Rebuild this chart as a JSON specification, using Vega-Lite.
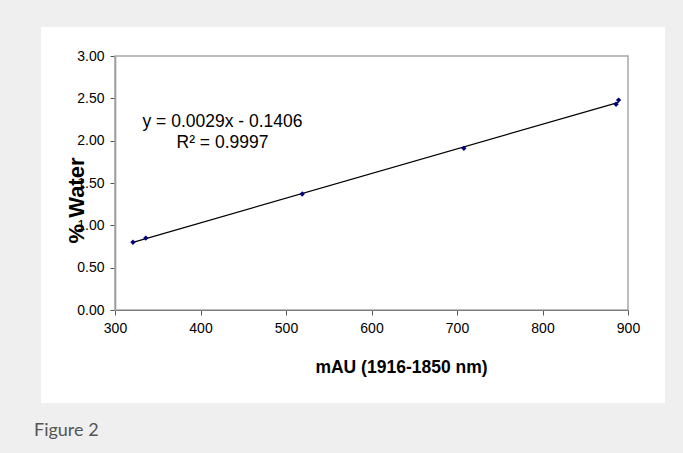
{
  "$schema": "https://vega.github.io/schema/vega-lite/v6.json",
  "width": 624,
  "height": 376,
  "autosize": {"type": "none"},
  "padding": {"left": 41, "top": 27, "right": 18, "bottom": 50},
  "background": "#efefef",
  "config": {
    "view": {"stroke": null, "fill": "#ffffff"},
    "font": "Liberation Sans",
    "axis": {
      "grid": false, "labelFlush": false, "labelOverlap": false,
      "labelFont": "Liberation Sans", "labelFontSize": 14, "labelColor": "#000000", "labelPadding": 6,
      "tickSize": 5, "tickColor": "#555555",
      "titleFont": "Liberation Sans", "titleFontWeight": "bold", "titleColor": "#000000",
      "titleAlign": "center", "titleBaseline": "alphabetic"
    },
    "axisX": {"offset": -93, "titleFontSize": 17.5, "titleX": 360, "titleY": 62, "domainColor": "#000000", "domainWidth": 1.2},
    "axisY": {"offset": -74, "titleFontSize": 22, "titleAngle": -90, "titleX": -32, "titleY": 173, "domainColor": "#808080", "domainWidth": 1.5, "format": ".2f"}
  },
  "data": {
    "values": [
      {"x": 321, "y": 0.80},
      {"x": 336, "y": 0.85},
      {"x": 519, "y": 1.37},
      {"x": 708, "y": 1.91},
      {"x": 886, "y": 2.43},
      {"x": 889, "y": 2.48}
    ]
  },
  "layer": [
    {
      "data": {"values": [{}]},
      "mark": {"type": "rect", "fill": null, "stroke": "#a6a6a6", "strokeWidth": 1.5},
      "encoding": {
        "x": {"datum": 300, "type": "quantitative", "scale": {"domain": [300, 900], "range": [74, 587], "nice": false, "zero": false}, "axis": {"title": "mAU (1916-1850 nm)", "values": [300, 400, 500, 600, 700, 800, 900]}},
        "x2": {"datum": 900},
        "y": {"datum": 0, "type": "quantitative", "scale": {"domain": [0, 3], "range": [283, 29], "nice": false, "zero": false}, "axis": {"title": "% Water", "values": [0, 0.5, 1, 1.5, 2, 2.5, 3]}},
        "y2": {"datum": 3}
      }
    },
    {
      "transform": [{"regression": "y", "on": "x"}],
      "mark": {"type": "line", "color": "#000000", "strokeWidth": 1.2},
      "encoding": {
        "x": {"field": "x", "type": "quantitative", "scale": {"domain": [300, 900], "range": [74, 587], "nice": false, "zero": false}, "axis": {"title": "mAU (1916-1850 nm)", "values": [300, 400, 500, 600, 700, 800, 900]}},
        "y": {"field": "y", "type": "quantitative", "scale": {"domain": [0, 3], "range": [283, 29], "nice": false, "zero": false}, "axis": {"title": "% Water", "values": [0, 0.5, 1, 1.5, 2, 2.5, 3]}}
      }
    },
    {
      "mark": {"type": "point", "shape": "diamond", "filled": true, "color": "#000080", "size": 28, "opacity": 1},
      "encoding": {
        "x": {"field": "x", "type": "quantitative", "scale": {"domain": [300, 900], "range": [74, 587], "nice": false, "zero": false}, "axis": {"title": "mAU (1916-1850 nm)", "values": [300, 400, 500, 600, 700, 800, 900]}},
        "y": {"field": "y", "type": "quantitative", "scale": {"domain": [0, 3], "range": [283, 29], "nice": false, "zero": false}, "axis": {"title": "% Water", "values": [0, 0.5, 1, 1.5, 2, 2.5, 3]}}
      }
    },
    {
      "data": {"values": [{}]},
      "mark": {"type": "text", "text": ["y = 0.0029x - 0.1406", "R² = 0.9997"], "font": "Liberation Sans", "fontSize": 17.5, "align": "center", "baseline": "middle", "lineHeight": 21, "color": "#000000"},
      "encoding": {
        "x": {"datum": 425.7, "type": "quantitative", "scale": {"domain": [300, 900], "range": [74, 587], "nice": false, "zero": false}, "axis": {"title": "mAU (1916-1850 nm)", "values": [300, 400, 500, 600, 700, 800, 900]}},
        "y": {"datum": 2.2146, "type": "quantitative", "scale": {"domain": [0, 3], "range": [283, 29], "nice": false, "zero": false}, "axis": {"title": "% Water", "values": [0, 0.5, 1, 1.5, 2, 2.5, 3]}}
      }
    },
    {
      "data": {"values": [{}]},
      "mark": {"type": "text", "text": "Figure 2", "font": "Lato", "fontSize": 18, "align": "left", "baseline": "alphabetic", "color": "#555555", "clip": false},
      "encoding": {
        "x": {"datum": 205.26, "type": "quantitative", "scale": {"domain": [300, 900], "range": [74, 587], "nice": false, "zero": false}, "axis": {"title": "mAU (1916-1850 nm)", "values": [300, 400, 500, 600, 700, 800, 900]}},
        "y": {"datum": -1.488, "type": "quantitative", "scale": {"domain": [0, 3], "range": [283, 29], "nice": false, "zero": false}, "axis": {"title": "% Water", "values": [0, 0.5, 1, 1.5, 2, 2.5, 3]}}
      }
    }
  ]
}
